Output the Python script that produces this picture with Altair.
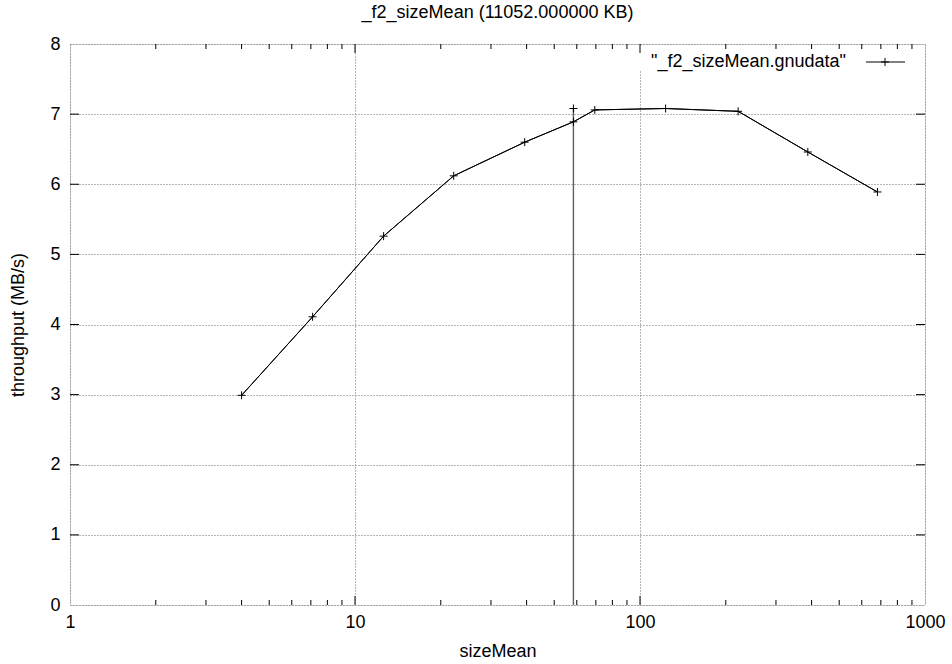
import altair as alt
import pandas as pd

# ---- data ----
size_mean = [4.0, 7.1, 12.6, 22.2, 39.4, 58.4, 69.4, 123, 221, 388, 681]
throughput = [2.99, 4.11, 5.26, 6.12, 6.60, 6.89, 7.06, 7.08, 7.04, 6.46, 5.89]
spike_x = [58.4]
spike_top = [7.08]
spike_bottom = [0.0]

x_major = [10, 100]
x_minor = [2, 3, 4, 5, 6, 7, 8, 9, 20, 30, 40, 50, 60, 70, 80, 90,
           200, 300, 400, 500, 600, 700, 800, 900]
y_major = [1, 2, 3, 4, 5, 6, 7]
x_labels = [1, 10, 100, 1000]
y_labels = [0, 1, 2, 3, 4, 5, 6, 7, 8]

legend_label = ['"_f2_sizeMean.gnudata"']
title_text = "_f2_sizeMean (11052.000000 KB)"

W, H = 855, 561
FONT = "Liberation Sans"
FS = 18

df = pd.DataFrame({"x": size_mean, "y": throughput})
spike = pd.DataFrame({"x": spike_x, "y": spike_top, "y0": spike_bottom})
xmaj = pd.DataFrame({"x": x_major})
xmin = pd.DataFrame({"x": x_minor})
ymaj = pd.DataFrame({"y": y_major})

xscale = alt.Scale(type="log", domain=[1, 1000])
yscale = alt.Scale(domain=[0, 8], nice=False)

xaxis = alt.Axis(values=x_labels, format="d", grid=True, gridDash=[1, 2],
                 gridColor="#6e6e6e", gridWidth=1, tickSize=0, domain=False,
                 labelFont=FONT, labelFontSize=FS, labelColor="black",
                 labelPadding=8, title="sizeMean", titleFont=FONT,
                 titleFontSize=FS, titleFontWeight="normal", titleColor="black",
                 titleX=W / 2, titleY=46, titleBaseline="middle",
                 titleAlign="center", labelFlush=False)
yaxis = alt.Axis(values=y_labels, format="d", grid=True, gridDash=[1, 2],
                 gridColor="#6e6e6e", gridWidth=1, tickSize=0, domain=False,
                 labelFont=FONT, labelFontSize=FS, labelColor="black",
                 labelPadding=10, title="throughput (MB/s)", titleFont=FONT,
                 titleFontSize=FS, titleFontWeight="normal", titleColor="black",
                 titleX=-52, titleY=H / 2, titleAngle=270,
                 titleBaseline="middle", titleAlign="center", labelFlush=False)

base = alt.Chart(df)

line = base.mark_line(color="black", strokeWidth=1).encode(
    x=alt.X("x:Q", scale=xscale, axis=xaxis),
    y=alt.Y("y:Q", scale=yscale, axis=yaxis),
)
CROSS = "M-1,0L1,0M0,-1L0,1"
pts = base.mark_point(shape=CROSS, size=64, filled=False, color="black",
                      strokeWidth=1, opacity=1).encode(
    x=alt.X("x:Q", scale=xscale), y=alt.Y("y:Q", scale=yscale))

spike_rule = alt.Chart(spike).mark_rule(color="#606060", strokeWidth=1.4).encode(
    x=alt.X("x:Q", scale=xscale), y=alt.Y("y0:Q", scale=yscale), y2="y:Q")
spike_pt = alt.Chart(spike).mark_point(shape=CROSS, size=64, filled=False,
                                       color="black", strokeWidth=1, opacity=1).encode(
    x=alt.X("x:Q", scale=xscale), y=alt.Y("y:Q", scale=yscale))

# inward ticks (gnuplot style, mirrored)
def xticks(data, length):
    b = alt.Chart(data).mark_rule(color="black", strokeWidth=1).encode(
        x=alt.X("x:Q", scale=xscale), y=alt.value(H), y2=alt.value(H - length))
    t = alt.Chart(data).mark_rule(color="black", strokeWidth=1).encode(
        x=alt.X("x:Q", scale=xscale), y=alt.value(0), y2=alt.value(length))
    return b + t

yt_l = alt.Chart(ymaj).mark_rule(color="black", strokeWidth=1).encode(
    y=alt.Y("y:Q", scale=yscale), x=alt.value(0), x2=alt.value(9))
yt_r = alt.Chart(ymaj).mark_rule(color="black", strokeWidth=1).encode(
    y=alt.Y("y:Q", scale=yscale), x=alt.value(W - 9), x2=alt.value(W))

# legend (top right, gnuplot key)
leg_df = pd.DataFrame({"label": legend_label})
leg_bg = alt.Chart(leg_df).mark_rect(color="white").encode(
    x=alt.value(560), x2=alt.value(W - 2), y=alt.value(2), y2=alt.value(26))
leg_text = alt.Chart(leg_df).mark_text(align="right", baseline="middle",
                                       font=FONT, fontSize=FS, color="black").encode(
    text="label:N", x=alt.value(776), y=alt.value(18))
leg_line = alt.Chart(leg_df).mark_rule(color="black", strokeWidth=1).encode(
    x=alt.value(796), x2=alt.value(835), y=alt.value(18))
leg_pt = alt.Chart(leg_df).mark_point(shape=CROSS, size=64, filled=False,
                                      color="black", strokeWidth=1, opacity=1).encode(
    x=alt.value(815), y=alt.value(18))

chart = alt.layer(
    line, leg_bg, xticks(xmaj, 9), xticks(xmin, 5), yt_l, yt_r,
    spike_rule, line.encode(), pts, spike_pt, leg_text, leg_line, leg_pt
).properties(
    width=W, height=H,
    title=alt.TitleParams(text=title_text, font=FONT, fontSize=FS,
                          fontWeight="normal", color="black", anchor="middle",
                          offset=13),
    autosize=alt.AutoSizeParams(type="none"),
    padding={"left": 70, "top": 44, "right": 27, "bottom": 59},
).configure_view(stroke="black", strokeWidth=1.2).configure(background="white")

chart.save("out.html", embed_options={"renderer": "svg", "actions": False})
